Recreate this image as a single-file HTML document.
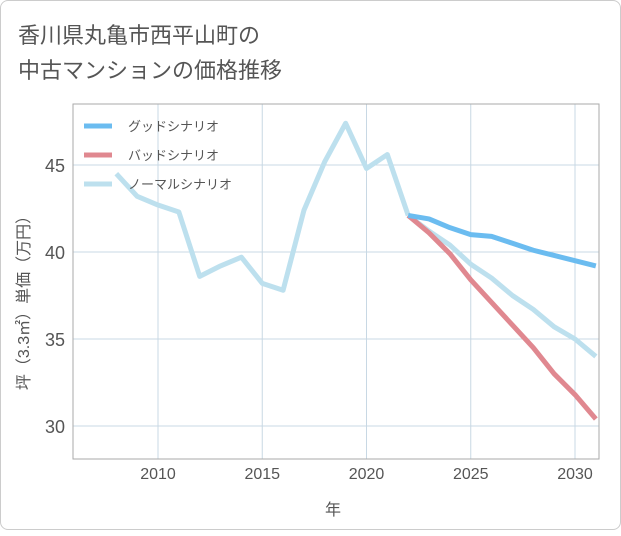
<!DOCTYPE html>
<html><head><meta charset="utf-8"><style>
body{margin:0;background:#fff;font-family:"Liberation Sans","Noto Sans CJK JP",sans-serif;}
#card{position:absolute;left:0;top:0;width:619px;height:528px;border:1px solid #ccc;border-radius:8px;background:#fff;}
</style></head><body>
<div id="card">
<svg width="621" height="530">
<text x="17" y="42" font-size="22" fill="#555">香川県丸亀市西平山町の</text>
<text x="17" y="77" font-size="22" fill="#555">中古マンションの価格推移</text>
<g id="grid"></g>
<g id="series"></g>
<rect x="72" y="103" width="526" height="355" fill="none" stroke="#aaa"/>
<g id="legend"></g>
<text x="332" y="514" font-size="16" fill="#555" text-anchor="middle">年</text>
<text transform="translate(28,298) rotate(-90)" font-size="16" fill="#555" text-anchor="middle">坪（3.3㎡）単価（万円）</text>
</svg></div>
<script>
const years=[2008,2009,2010,2011,2012,2013,2014,2015,2016,2017,2018,2019,2020,2021,2022];
const history=[44.5,43.2,42.7,42.3,38.6,39.2,39.7,38.2,37.8,42.4,45.2,47.4,44.8,45.6,42.1];
const futureYears=[2022,2023,2024,2025,2026,2027,2028,2029,2030,2031];
const good=[42.1,41.9,41.4,41.0,40.9,40.5,40.1,39.8,39.5,39.2];
const bad=[42.1,41.1,39.9,38.4,37.1,35.8,34.5,33.0,31.8,30.4];
const normal=[42.1,41.2,40.4,39.3,38.5,37.5,36.7,35.7,35.0,34.0];
const xTicks=[2010,2015,2020,2025,2030];
const yTicks=[30,35,40,45];
const X=y=>157+(y-2010)*20.85;
const Y=v=>251-(v-40)*17.4;
const NS="http://www.w3.org/2000/svg";
function mk(t,a,p){const e=document.createElementNS(NS,t);for(const k in a)e.setAttribute(k,a[k]);p.appendChild(e);return e;}
const grid=document.getElementById('grid');
xTicks.forEach(t=>{
 const l=mk('line',{x1:X(t),x2:X(t),y1:103,y2:458,stroke:'#c8d8e4'},grid);
 
 
 const tx=mk('text',{x:X(t),y:478,'font-size':16,fill:'#555','text-anchor':'middle'},grid);tx.textContent=t;
 
 
});
yTicks.forEach(t=>{
 const l=mk('line',{x1:72,x2:598,y1:Y(t),y2:Y(t),stroke:'#c8d8e4'},grid);
 
 
 const tx=mk('text',{x:64,y:Y(t)+7,'font-size':18,fill:'#555','text-anchor':'end'},grid);tx.textContent=t;
 
 
});
const sg=document.getElementById('series');
mk('clipPath',{id:'cp'},sg).appendChild(document.createElementNS(NS,'rect'));
const cr=sg.querySelector('#cp rect');cr.setAttribute('x',72);cr.setAttribute('y',103);cr.setAttribute('width',526);cr.setAttribute('height',355);
function line(xs,vs,col,w,name){
 const p=mk('polyline',{points:xs.map((x,i)=>X(x)+','+Y(vs[i])).join(' '),fill:'none',stroke:col,'stroke-width':w,'stroke-linejoin':'round','clip-path':'url(#cp)'},sg);
 
 
}
line(years,history,'#bde0ee',5,'history-line');
line(futureYears,normal,'#bde0ee',5,'normal-scenario-line');
line(futureYears,bad,'#e08890',5,'bad-scenario-line');
line(futureYears,good,'#6bbcf0',5,'good-scenario-line');
const lg=document.getElementById('legend');
[['グッドシナリオ','#6bbcf0','legend-good'],['バッドシナリオ','#e08890','legend-bad'],['ノーマルシナリオ','#bde0ee','legend-normal']].forEach((d,i)=>{
 const g=mk('g',{},lg);
 
 
 const y=125+i*29;
 mk('line',{x1:83,x2:111,y1:y,y2:y,stroke:d[1],'stroke-width':5},g);
 const t=mk('text',{x:127,y:y+5,'font-size':13,fill:'#555'},g);t.textContent=d[0];
});
</script>
</body></html>
